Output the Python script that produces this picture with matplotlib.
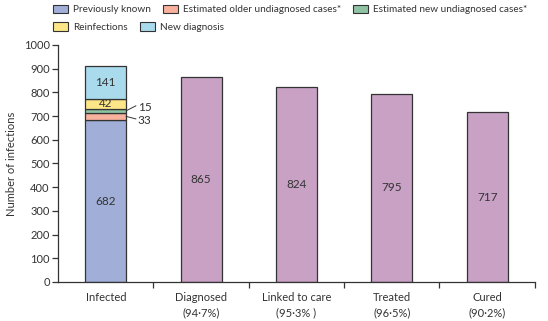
import numpy as np
import matplotlib.pyplot as plt
from matplotlib.patches import Patch

plt.rcParams['font.family'] = ['Lato', 'DejaVu Sans']
plt.rcParams['font.size'] = 8
plt.rcParams['text.color'] = '#333333'
plt.rcParams['axes.labelcolor'] = '#333333'
plt.rcParams['xtick.color'] = '#333333'
plt.rcParams['ytick.color'] = '#333333'

categories = ['Infected', 'Diagnosed\n(94·7%)', 'Linked to care\n(95·3% )',
              'Treated\n(96·5%)', 'Cured\n(90·2%)']

# components of the infected bar, bottom to top
stack_names = ['Previously known', 'Estimated older undiagnosed cases*',
               'Estimated new undiagnosed cases*', 'Reinfections', 'New diagnosis']
stack_values = [682, 33, 15, 42, 141]
stack_colors = ['#a0aed8', '#f7b19c', '#8fc3a3', '#fce688', '#a9dbed']

cascade_values = [865, 824, 795, 717]
cascade_color = '#c8a1c5'
edge = '#333333'

fig = plt.figure(figsize=(5.48, 3.21), dpi=100)
ax = fig.add_axes([0.106, 0.1215, 0.87, 0.7385])

x = np.arange(len(categories))
w = 0.43

bottom = 0
for val, col in zip(stack_values, stack_colors):
    ax.bar(x[0], val, w, bottom=bottom, color=col, edgecolor=edge, linewidth=0.9)
    bottom += val

ax.bar(x[1:], cascade_values, w, color=cascade_color, edgecolor=edge, linewidth=0.9)

# labels inside the bars
starts = np.cumsum([0] + stack_values[:-1])
for i in [0, 3, 4]:
    ax.text(x[0], starts[i] + stack_values[i] / 2, str(stack_values[i]),
            ha='center', va='center', fontsize=8.5)
# thin segments get labels to the side with leader lines
for i, ty in [(2, 735), (1, 680)]:
    ymid = starts[i] + stack_values[i] / 2
    ax.plot([x[0] + w / 2, x[0] + w / 2 + 0.1], [ymid, ty + 8],
            color=edge, linewidth=0.7, clip_on=False)
    ax.text(x[0] + w / 2 + 0.12, ty, str(stack_values[i]),
            ha='left', va='center', fontsize=8.5)

for xi, val in zip(x[1:], cascade_values):
    ax.text(xi, val / 2, str(val), ha='center', va='center', fontsize=8.5)

ax.set_xlim(-0.5, 4.5)
ax.set_ylim(0, 1000)
ax.set_yticks(np.arange(0, 1001, 100))
ax.set_ylabel('Number of infections', fontsize=8, labelpad=5)

ax.set_xticks(x)
ax.set_xticklabels(categories, linespacing=1.5)
ax.tick_params(axis='x', length=0, pad=7)
ax.set_xticks(np.arange(0.5, 5, 1), minor=True)
ax.tick_params(axis='x', which='minor', length=4, width=0.9, direction='out')
ax.tick_params(axis='y', length=4, width=0.9, pad=2)

for s in ['top', 'right']:
    ax.spines[s].set_visible(False)
for s in ['left', 'bottom']:
    ax.spines[s].set_linewidth(0.9)
    ax.spines[s].set_color(edge)

handles = [Patch(facecolor=c, edgecolor=edge, linewidth=0.8) for c in stack_colors]
legend_kw = dict(loc='upper left', frameon=False, fontsize=7.2,
                 handlelength=1.5, handleheight=0.9, handletextpad=0.5,
                 columnspacing=1.2, borderpad=0.3)
fig.legend(handles[:3], stack_names[:3], ncol=3,
           bbox_to_anchor=(0.082, 1.01), **legend_kw)
fig.legend(handles[3:], stack_names[3:], ncol=2,
           bbox_to_anchor=(0.082, 0.955), **legend_kw)

fig.savefig('out.png', dpi=100)
